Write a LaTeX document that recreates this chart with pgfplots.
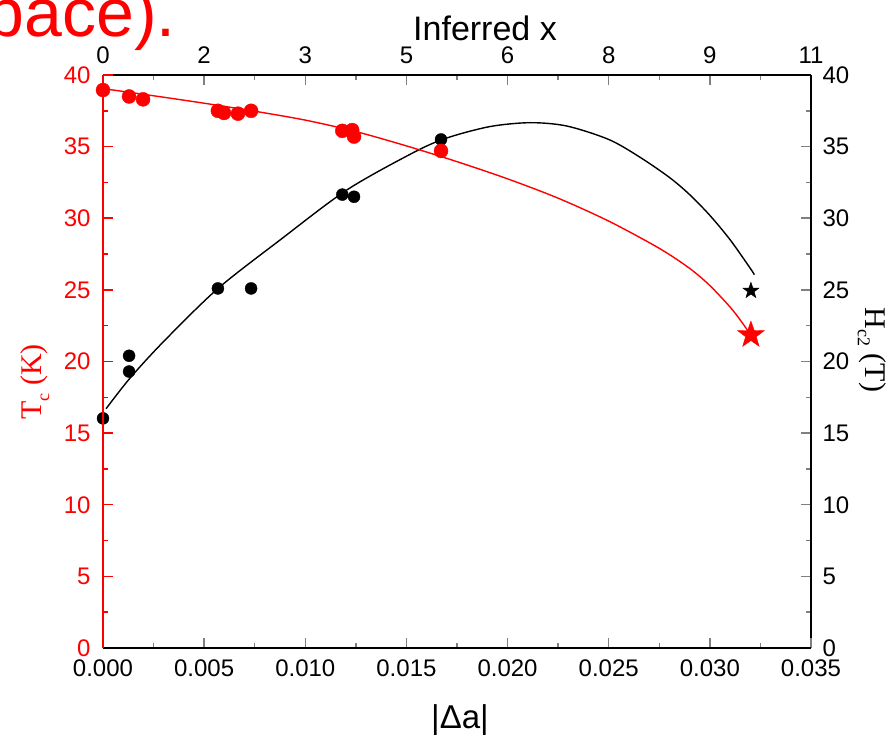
\documentclass[border=0pt]{standalone}
\usepackage{pgfplots}
\pgfplotsset{compat=1.18}
\usepackage{fontspec}
\setmainfont{Liberation Sans}
\newfontfamily\timesfont{Liberation Serif}

\pgfdeclareplotmark{fstar}{%
 \pgfpathmoveto{\pgfpointpolar{90}{\pgfplotmarksize}}%
 \pgfpathlineto{\pgfpointpolar{126}{0.4\pgfplotmarksize}}%
 \pgfpathlineto{\pgfpointpolar{162}{\pgfplotmarksize}}%
 \pgfpathlineto{\pgfpointpolar{198}{0.4\pgfplotmarksize}}%
 \pgfpathlineto{\pgfpointpolar{234}{\pgfplotmarksize}}%
 \pgfpathlineto{\pgfpointpolar{270}{0.4\pgfplotmarksize}}%
 \pgfpathlineto{\pgfpointpolar{306}{\pgfplotmarksize}}%
 \pgfpathlineto{\pgfpointpolar{342}{0.4\pgfplotmarksize}}%
 \pgfpathlineto{\pgfpointpolar{18}{\pgfplotmarksize}}%
 \pgfpathlineto{\pgfpointpolar{54}{0.4\pgfplotmarksize}}%
 \pgfpathclose\pgfusepathqfillstroke}

\begin{document}
\begin{tikzpicture}
\useasboundingbox (-103pt,-90pt) rectangle (790pt,648pt);
\clip (-103pt,-90pt) rectangle (790pt,648pt);
\pgfplotsset{
  common/.style={
    scale only axis, width=708pt, height=573pt,
    xmin=0, xmax=0.035, ymin=0, ymax=40,
    tick align=inside,
    major tick length=10pt, minor tick length=5pt,
    every tick/.append style={line width=1.5pt},
    /pgf/number format/assume math mode=true,
    ticklabel style={font=\fontsize{24}{28}\selectfont},
    xtick={0,0.005,0.010,0.015,0.020,0.025,0.030,0.035},
    ytick={0,5,10,15,20,25,30,35,40},
    minor x tick num=1, minor y tick num=1,
    scaled x ticks=false,
    clip=false,
  }
}
% black: top / right axes
\begin{axis}[common,
  axis x line*=top, axis y line*=right,
  axis line style={-, line width=2pt, black},
  xticklabels={0,2,3,5,6,8,9,11},
  xticklabel style={yshift=8pt},
  yticklabel style={xshift=8pt},
]
\addplot[black, line width=1.4pt, smooth, no marks] coordinates {
 (0.00015,16.7) (0.00133,18.83) (0.003,21.4) (0.00567,25.08) (0.00875,28.48)
 (0.01205,31.97) (0.01534,34.58) (0.01699,35.6) (0.01913,36.4) (0.02111,36.67)
 (0.02292,36.44) (0.025,35.5) (0.0265,34.3) (0.028,32.85) (0.029,31.65)
 (0.030,30.2) (0.031,28.5) (0.032,26.5) (0.0322,26.06)
};
\addplot[only marks, mark=*, mark size=6pt, black] coordinates {
 (0,16.03) (0.00129,20.4) (0.00129,19.3) (0.00568,25.1) (0.00732,25.1)
 (0.01183,31.65) (0.01241,31.5) (0.01671,35.5)
};
\addplot[only marks, mark=fstar, mark size=8.5pt, black, fill=black] coordinates {(0.03203,24.94)};
\end{axis}
% red: bottom / left axes
\begin{axis}[common,
  axis x line*=bottom, axis y line*=left,
  x axis line style={-, line width=2pt, black},
  y axis line style={-, line width=2pt, red},
  every y tick/.append style={red},
  yticklabel style={red, xshift=-9pt},
  xticklabel style={yshift=-8pt, /pgf/number format/.cd, fixed, fixed zerofill, precision=3},
]
\addplot[red, line width=1.4pt, smooth, no marks] coordinates {
 (0,39.05) (0.0025,38.55) (0.005,38.03) (0.0075,37.47) (0.010,36.85)
 (0.0125,36.05) (0.015,35.05) (0.0175,33.95) (0.020,32.75) (0.0225,31.4)
 (0.025,29.8) (0.0275,27.9) (0.029,26.5) (0.030,25.3) (0.031,23.8)
 (0.0315,22.9) (0.0320,21.9)
};
\addplot[only marks, mark=*, mark size=7pt, red] coordinates {
 (0,38.95) (0.00129,38.5) (0.00198,38.3) (0.00568,37.5) (0.00598,37.35)
 (0.00667,37.3) (0.00732,37.5) (0.01183,36.1) (0.01232,36.15) (0.01241,35.7)
 (0.01671,34.7)
};
\addplot[only marks, mark=fstar, mark size=14pt, red, fill=red] coordinates {(0.03203,21.85)};
\end{axis}
% labels
\node[rotate=90, red, font=\timesfont\fontsize{30}{36}\selectfont] at (-68pt,266pt)
  {T\raisebox{-0.25em}{\fontsize{18}{20}\selectfont c} (K)};
\node[rotate=-90, black, font=\timesfont\fontsize{30}{36}\selectfont] at (769pt,298pt)
  {H\raisebox{-0.25em}{\fontsize{18}{20}\selectfont c2} (T)};
\node[font=\fontsize{34}{40}\selectfont] at (382pt,620pt) {Inferred x};
\node[font=\fontsize{33}{38}\selectfont] at (357pt,-72pt) {|Δa|};
\node[anchor=base east, inner sep=0pt, red, font=\fontsize{68}{74}\selectfont] at (73pt,611pt) {space).};
\end{tikzpicture}
\end{document}
